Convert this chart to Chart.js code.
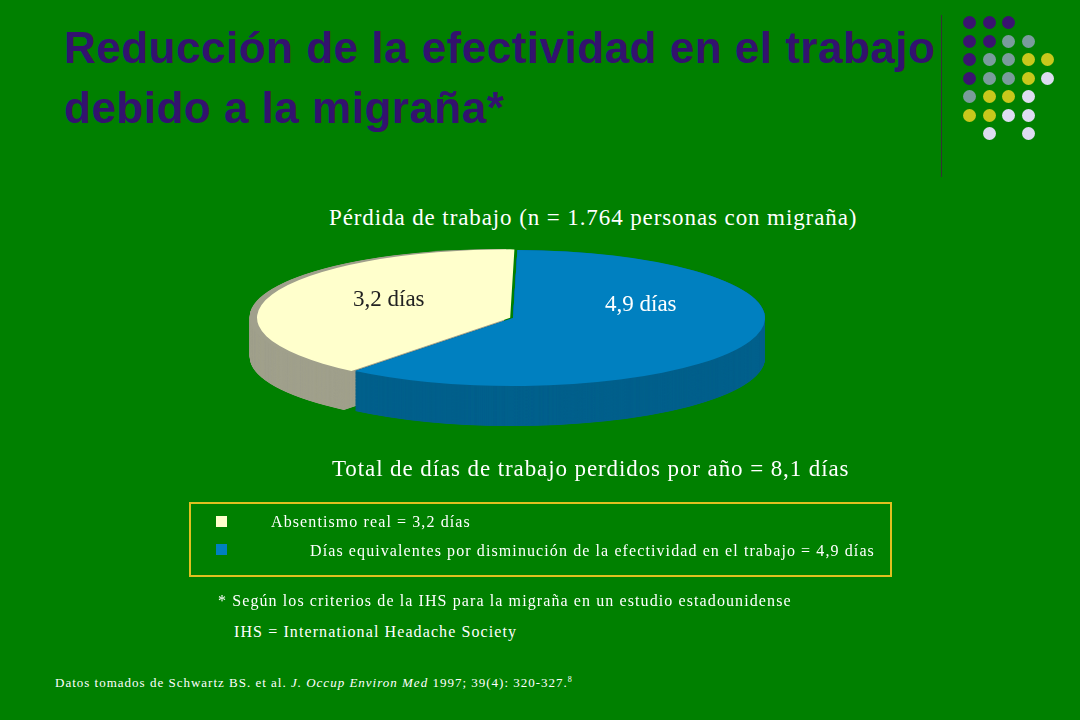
<!DOCTYPE html>
<html><head><meta charset="utf-8">
<script src="https://cdn.jsdelivr.net/npm/chart.js@4"></script>
<style>
body{margin:0;width:1080px;height:720px;background:#008000;position:relative;overflow:hidden;font-family:"Liberation Serif",serif}
.t{position:absolute;white-space:nowrap}
.s{font-size:16px;letter-spacing:1.1px;color:#fff}
.dot{position:absolute;width:13px;height:13px;border-radius:50%}
</style></head><body>
<div id="dots"></div>
<div style="position:absolute;left:941px;top:15px;width:1px;height:162px;background:#333"></div>
<div class="t" style="left:64px;top:18px;font:bold 44px 'Liberation Sans',sans-serif;letter-spacing:0.5px;color:#33126e;line-height:60px">Reducción de la efectividad en el trabajo<br>debido a la migraña*</div>
<div class="t" style="left:329px;top:205px;font-size:23px;letter-spacing:0.9px;color:#fff">Pérdida de trabajo (n = 1.764 personas con migraña)</div>
<div style="position:absolute;left:233px;top:38px;width:560px;height:560px"><canvas id="c" width="560" height="560"></canvas></div>
<div class="t" style="left:353px;top:286px;font-size:23px;color:#222">3,2 días</div>
<div class="t" style="left:605px;top:291px;font-size:23px;color:#fff">4,9 días</div>
<div class="t" style="left:332px;top:456px;font-size:23px;letter-spacing:0.9px;color:#fff">Total de días de trabajo perdidos por año = 8,1 días</div>
<div style="position:absolute;left:189px;top:502px;width:699px;height:71px;border:2px solid #e0c020"></div>
<div style="position:absolute;left:216px;top:516px;width:11px;height:11px;background:#ffffcc"></div>
<div style="position:absolute;left:216px;top:544px;width:11px;height:11px;background:#0080c0"></div>
<div class="t s" style="left:271px;top:513px">Absentismo real = 3,2 días</div>
<div class="t s" style="left:310px;top:542px">Días equivalentes por disminución de la efectividad en el trabajo = 4,9 días</div>
<div class="t s" style="left:218px;top:592px">* Según los criterios de la IHS para la migraña en un estudio estadounidense</div>
<div class="t s" style="left:234px;top:623px">IHS = International Headache Society</div>
<div class="t" style="left:55px;top:675px;font-size:13px;letter-spacing:1px;color:#fff">Datos tomados de Schwartz BS. et al. <i>J. Occup Environ Med</i> 1997; 39(4): 320-327.<sup style="font-size:8px">8</sup></div>
<script>
const categories=["Días equivalentes por disminución de la efectividad","Absentismo real"];
const values=[4.9,3.2];
const topColors=["#0080c0","#ffffcc"];
const sideColors=["#00608c","#a0a08c"];
const P="#3a1470",G="#7a9c9c",Y="#c8c81c",L="#dcdcf0";
const grid=[[P,P,P,null,null],[P,P,G,G,null],[P,G,G,Y,Y],[P,G,G,Y,L],[G,Y,Y,L,null],[Y,Y,L,L,null],[null,L,null,L,null]];
let h="";grid.forEach((r,i)=>r.forEach((c,j)=>{if(c)h+=`<div class="dot" style="left:${963+j*19.5}px;top:${16+i*18.5}px;background:${c}"></div>`;}));
document.getElementById("dots").innerHTML=h;
const SY=0.27,TH=40/SY;
const pie3d={id:"pie3d",
 beforeDatasetsDraw(ch){const ctx=ch.ctx,a=ch.getDatasetMeta(0).data;const cy=a[0].y;
  ctx.save();ctx.translate(0,cy);ctx.scale(1,SY);ctx.translate(0,-cy);
  for(let k=TH;k>0;k-=1){a.forEach((el,i)=>{const p=el.getProps(["x","y","startAngle","endAngle","outerRadius"],true);
   const mid=(p.startAngle+p.endAngle)/2,off=el.options.offset||0;const ox=Math.cos(mid)*off,oy=Math.sin(mid)*off;
   ctx.beginPath();ctx.moveTo(p.x+ox,p.y+oy+k);ctx.arc(p.x+ox,p.y+oy+k,p.outerRadius,p.startAngle,p.endAngle);ctx.closePath();ctx.fillStyle=sideColors[i];ctx.fill();});}
 },
 afterDatasetsDraw(ch){ch.ctx.restore();}};
new Chart(document.getElementById("c"),{type:"pie",
 data:{labels:categories,datasets:[{data:values,backgroundColor:topColors,borderWidth:0,offset:[0,12],rotation:1}]},
 options:{responsive:false,animation:false,layout:{padding:22},plugins:{legend:{display:false},tooltip:{enabled:false}},events:[]},
 plugins:[pie3d]});
</script>
</body></html>
